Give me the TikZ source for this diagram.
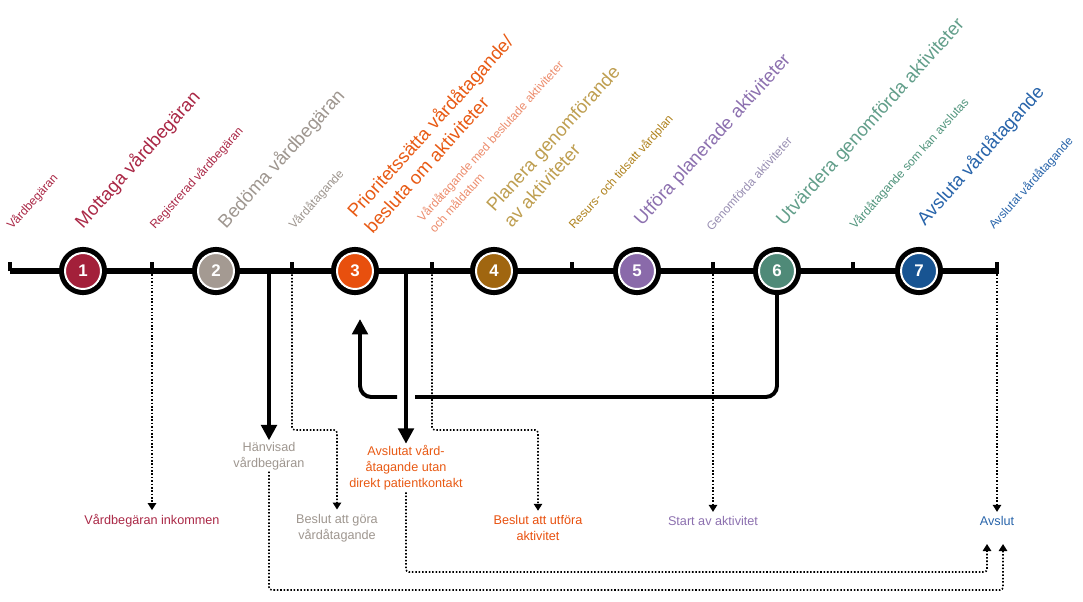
\documentclass[tikz,border=0pt]{standalone}
\usepackage{fontspec}
\setmainfont{Liberation Sans}
\usepackage{xcolor}
\usepackage{tikz}
\definecolor{stepone}{RGB}{163, 32, 58}
\definecolor{steptwo}{RGB}{164, 154, 146}
\definecolor{stepthree}{RGB}{232, 80, 14}
\definecolor{stepfour}{RGB}{160, 102, 16}
\definecolor{stepfive}{RGB}{138, 106, 170}
\definecolor{stepsix}{RGB}{79, 138, 120}
\definecolor{stepseven}{RGB}{24, 84, 146}
\definecolor{txtred}{RGB}{170, 40, 70}
\definecolor{txtgray}{RGB}{158, 150, 143}
\definecolor{txtorange}{RGB}{232, 90, 20}
\definecolor{txtsalmon}{RGB}{236, 140, 108}
\definecolor{txtgold}{RGB}{190, 158, 80}
\definecolor{txtochre}{RGB}{175, 130, 30}
\definecolor{txtpurple}{RGB}{140, 112, 175}
\definecolor{txtlilac}{RGB}{152, 142, 178}
\definecolor{txtgreen}{RGB}{98, 158, 138}
\definecolor{txtteal}{RGB}{80, 148, 124}
\definecolor{txtblue}{RGB}{40, 100, 170}
\usetikzlibrary{arrows.meta,positioning,calc}

\begin{document}
\begin{tikzpicture}[
    x=0.25mm, y=-0.25mm,
    stepnum/.style={circle, fill=#1, draw=white, line width=1.4pt, minimum size=9mm, inner sep=0pt, text=white, font=\fontsize{12}{12}\selectfont\bfseries, preaction={draw=black, line width=8.6pt}},
    mainline/.style={line width=3.6pt},
    tickmark/.style={line width=3pt},
    bigline/.style={line width=2.8pt},
    bigarrow/.style={line width=2.8pt, -{Triangle[length=11pt, width=11pt]}},
    dotarrow/.style={line width=1.1pt, dash pattern=on 1.1pt off 1.3pt, rounded corners=2pt, -{Triangle[length=5pt, width=6pt]}},
    phase/.style={rotate=48, anchor=south west, inner sep=0pt, align=left, font=\fontsize{13.2}{16.5}\selectfont},
    output/.style={rotate=48, anchor=south west, inner sep=0pt, align=left, font=\fontsize{8.5}{11.5}\selectfont},
    event/.style={align=center, inner sep=1pt, font=\fontsize{9}{11.5}\selectfont}
]
    \useasboundingbox (0,0) rectangle (1083,601);

    % Timeline with ticks
    \coordinate (t0) at (10,271);
    \coordinate (t1) at (152,271);
    \coordinate (t2) at (292,271);
    \coordinate (t3) at (432,271);
    \coordinate (t4) at (572,271);
    \coordinate (t5) at (713,271);
    \coordinate (t6) at (853,271);
    \coordinate (t7) at (997,271);
    \draw[mainline] (t0) -- (t7);
    \foreach \t in {t0,t1,t2,t3,t4,t5,t6,t7}
        \draw[tickmark] (\t) -- ++(0,-9);
    \draw[tickmark] (t7) -- ++(0,3);

    % Steps
    \node[stepnum=stepone] (c1) at (83,271) {1};
    \node[stepnum=steptwo] (c2) at (216,271) {2};
    \node[stepnum=stepthree] (c3) at (355,271) {3};
    \node[stepnum=stepfour] (c4) at (494,271) {4};
    \node[stepnum=stepfive] (c5) at (637,271) {5};
    \node[stepnum=stepsix] (c6) at (777,271) {6};
    \node[stepnum=stepseven] (c7) at (919,271) {7};

    % Activities and results
    \node[output, text=txtred] (vbegaran) at (14,232) {Vårdbegäran};
    \node[phase, text=txtred] (mottaga) at (86,232) {Mottaga vårdbegäran};
    \node[output, text=txtred] (registrerad) at (157,232) {Registrerad vårdbegäran};
    \node[phase, text=txtgray] (bedoma) at (229,232) {Bedöma vårdbegäran};
    \node[output, text=txtgray] (vatagande) at (296,232) {Vårdåtagande};
    \node[phase, text=txtorange] (prioritera) at (373,235) {Prioritetssätta vårdåtagande/\\besluta om aktiviteter};
    \node[output, text=txtsalmon] (beslutade) at (435,234) {Vårdåtagande med beslutade aktiviteter\\och måldatum};
    \node[phase, text=txtgold] (planera) at (512,229) {Planera genomförande\\av aktiviteter};
    \node[output, text=txtochre] (vardplan) at (576,232) {Resurs- och tidsatt vårdplan};
    \node[phase, text=txtpurple] (utfora) at (645,229) {Utföra planerade aktiviteter};
    \node[output, text=txtlilac] (genomforda) at (712,232) {Genomförda aktiviteter};
    \node[phase, text=txtgreen] (utvardera) at (787,229) {Utvärdera genomförda aktiviteter};
    \node[output, text=txtteal] (kanavslutas) at (857,232) {Vårdåtagande som kan avslutas};
    \node[phase, text=txtblue] (avsluta) at (928,229) {Avsluta vårdåtagande};
    \node[output, text=txtblue] (avslutat) at (996,232) {Avslutat vårdåtagande};

    % Events
    \node[event, text=txtred] (inkommen) at (152,521) {Vårdbegäran inkommen};
    \node[event, text=txtgray] (hanvisad) at (269,456) {Hänvisad\\vårdbegäran};
    \node[event, text=txtgray] (beslutgora) at (337,528) {Beslut att göra\\vårdåtagande};
    \node[event, text=txtorange] (utanpatient) at (406,468) {Avslutat vård-\\åtagande utan\\direkt patientkontakt};
    \node[event, text=stepthree] (beslututfora) at (538,528) {Beslut att utföra\\aktivitet};
    \node[event, text=txtpurple] (startakt) at (713,521) {Start av aktivitet};
    \node[event, text=txtblue] (avslut) at (997,521) {Avslut};

    % Return from step 6 to step 3
    \coordinate (back) at (0,397);
    \coordinate (ret) at (360,319);
    \coordinate (gapR) at (415,397);
    \coordinate (gapL) at (397,397);
    \draw[bigline, rounded corners=8pt] (c6.south) -- (c6.south |- back) -- (gapR);
    \draw[bigarrow, rounded corners=8pt] (gapL) -| (ret);

    % Exits from the timeline
    \coordinate (d1) at (269,271);
    \coordinate (d2) at (406,271);
    \draw[bigarrow] (d1) -- (hanvisad);
    \draw[bigarrow] (d2) -- (utanpatient);

    \draw[dotarrow, shorten >=2pt] (t1) -- (inkommen);
    \draw[dotarrow, shorten >=2pt] (t2) -- ++(0,159) -| (beslutgora);
    \draw[dotarrow, shorten >=2pt] (t3) -- ++(0,159) -| (beslututfora);
    \draw[dotarrow, shorten >=2pt] (t5) -- (startakt);
    \draw[dotarrow, shorten >=2pt] (t7) -- (avslut);

    \coordinate (lane1) at (0,572);
    \coordinate (lane2) at (0,590);
    \coordinate (in1) at (987,544);
    \coordinate (in2) at (1003,544);
    \draw[dotarrow] (utanpatient.south) -- (utanpatient.south |- lane1) -| (in1);
    \draw[dotarrow] (hanvisad.south) -- (hanvisad.south |- lane2) -| (in2);
\end{tikzpicture}
\end{document}
